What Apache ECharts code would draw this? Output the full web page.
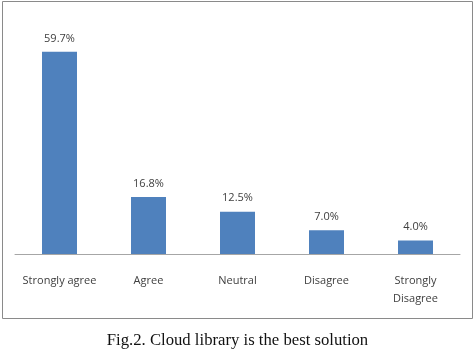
<!DOCTYPE html>
<html><head><meta charset="utf-8">
<script src="https://cdn.jsdelivr.net/npm/echarts@6/dist/echarts.min.js"></script>
<style>html,body{margin:0;padding:0;background:#fff}#c{width:475px;height:351px}</style>
</head><body><div id="c"></div>
<script>
const categories = ['Strongly agree', 'Agree', 'Neutral', 'Disagree', 'Strongly\nDisagree'];
const values = [59.7, 16.8, 12.5, 7.0, 4.0];
const caption = 'Fig.2. Cloud library is the best solution';

const chart = echarts.init(document.getElementById('c'), null, {renderer: 'canvas'});
chart.setOption({
  animation: false,
  backgroundColor: '#fff',
  grid: {left: 15, right: 15, top: 17, bottom: 97, containLabel: false},
  graphic: [
    {type: 'rect', shape: {x: 2.5, y: 1.5, width: 470, height: 317}, style: {fill: 'none', stroke: '#8a8a8a', lineWidth: 1}},
    {type: 'text', left: 'center', top: 332, style: {text: caption, font: '16.7px "Liberation Serif", serif', fill: '#111'}}
  ],
  xAxis: {
    type: 'category', data: categories,
    axisLine: {lineStyle: {color: '#a6a6a6', width: 1}},
    axisTick: {show: false},
    axisLabel: {color: '#404040', fontFamily: '"Open Sans", sans-serif', fontSize: 11, margin: 18, lineHeight: 18, interval: 0}
  },
  yAxis: {type: 'value', min: 0, max: 70, show: false, splitLine: {show: false}},
  series: [{
    type: 'bar', data: values, barWidth: 35,
    itemStyle: {color: '#4f81bd'},
    label: {show: true, position: 'top', distance: 8, color: '#404040', fontFamily: '"Open Sans", sans-serif', fontSize: 11,
      formatter: p => p.value.toFixed(1) + '%'}
  }]
});
</script></body></html>
